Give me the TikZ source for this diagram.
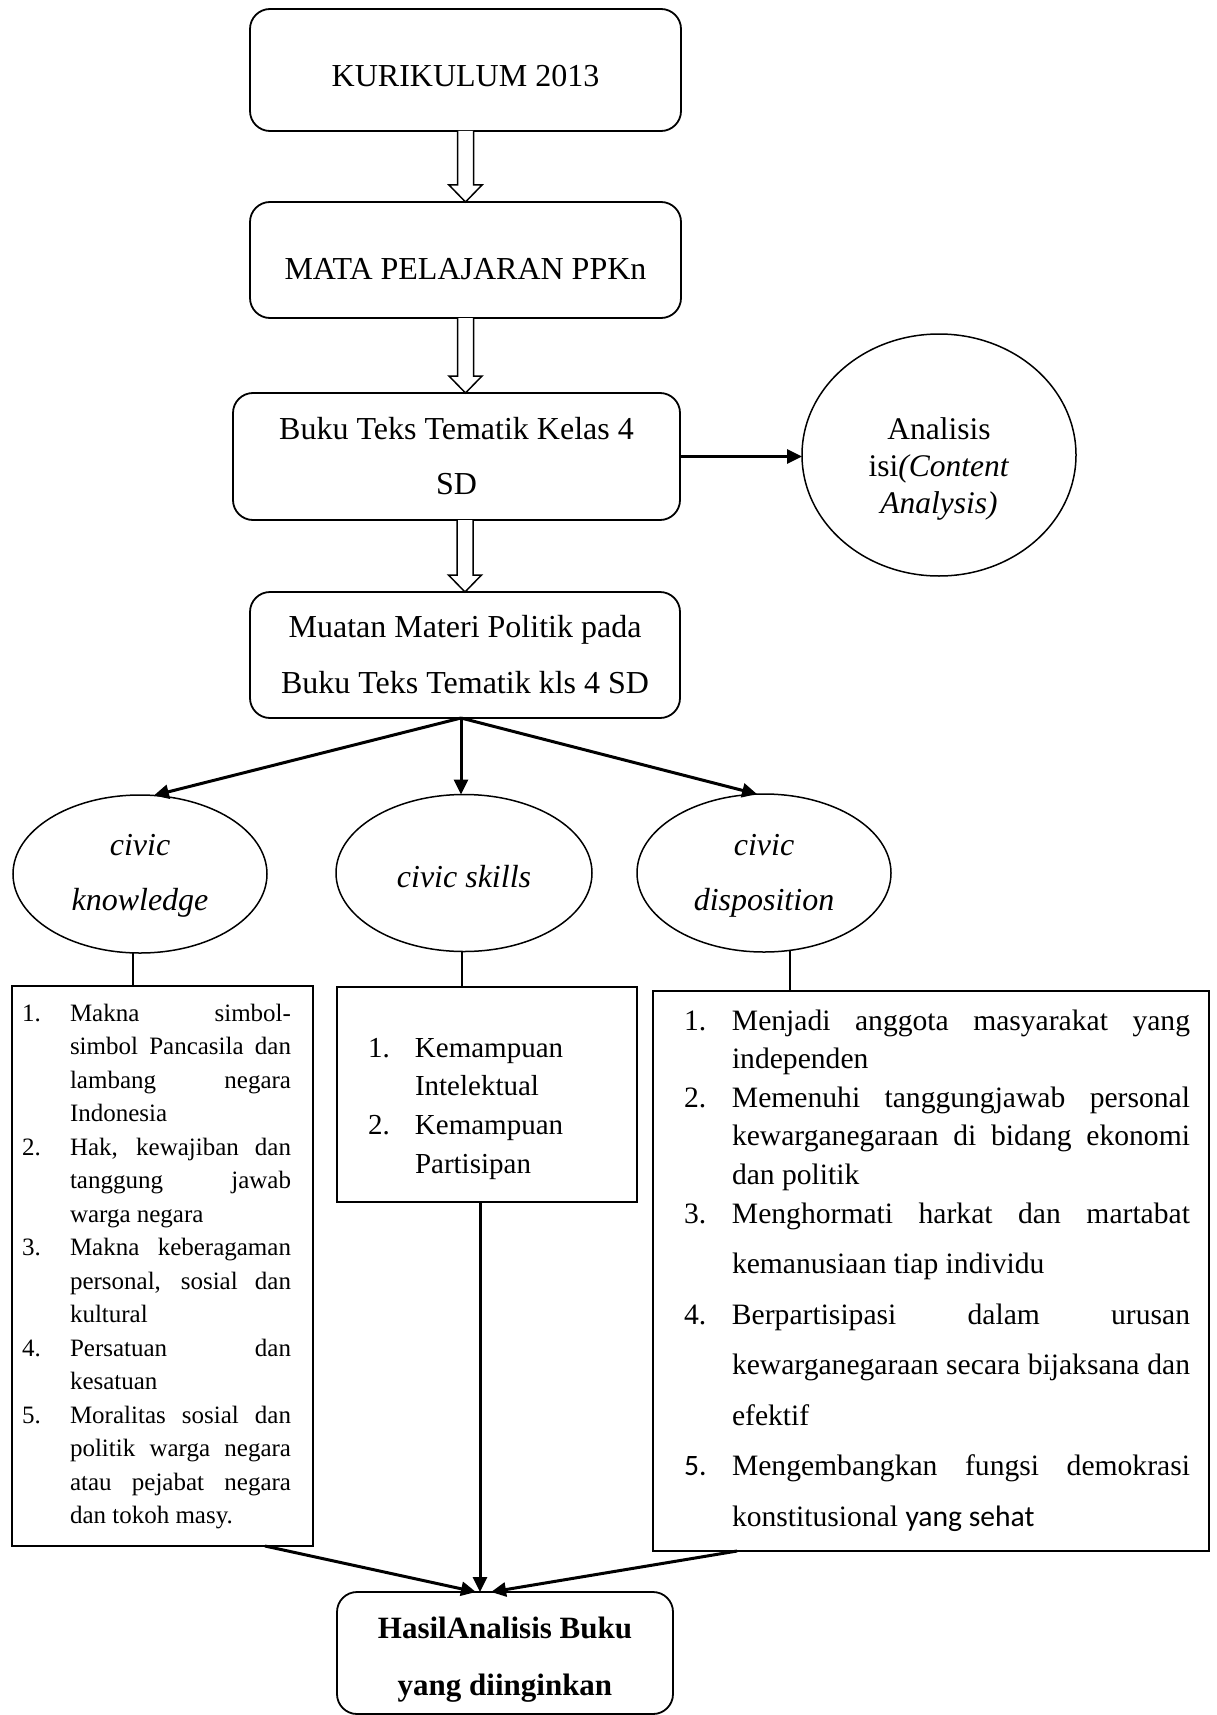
\documentclass[tikz,border=0pt]{standalone}
\usepackage{fontspec}
\setmainfont{Liberation Serif}
\newfontfamily\carlito{Carlito}
\usetikzlibrary{arrows.meta,calc,shapes.geometric}

\newlength\numw
\newlength\txtw
\newcommand\jitem[2]{\noindent\makebox[\numw][l]{#1}\makebox[\txtw][s]{#2}\par}
\newcommand\litem[2]{\noindent\makebox[\numw][l]{#1}#2\par}

\tikzset{
  rbox/.style={draw, line width=1.8pt, rounded corners=20pt, inner sep=0pt, outer sep=0pt, anchor=north west},
  sbox/.style={draw, line width=1.8pt, inner sep=0pt, outer sep=0pt, anchor=north west},
  ell/.style={draw, ellipse, line width=1.5pt, inner sep=0pt, outer sep=0pt},
  txt/.style={inner sep=0pt, outer sep=0pt, anchor=base},
  conn/.style={line width=3pt, -{Triangle[length=15pt,width=14pt]}},
  link/.style={line width=1.4pt},
  harrow/.style={draw, fill=white, line width=1.5pt, line join=miter}
}

% hollow block arrow: #1 source node, #2 target node, #3 node giving x
\newcommand\hollowarrow[3]{%
  \draw[harrow] let \p1=(#1.south), \p2=(#2.north), \p3=(#3.center) in
  (\x3-8pt,\y1) -- (\x3-8pt,\y2+17pt) -- (\x3-16.5pt,\y2+17pt) -- (\x3,\y2)
  -- (\x3+16.5pt,\y2+17pt) -- (\x3+8pt,\y2+17pt) -- (\x3+8pt,\y1);}

\begin{document}
\begin{tikzpicture}[x=1pt,y=-1pt]
\useasboundingbox (0,0) rectangle (1217,1715);

% ---- top boxes ----
\node[rbox, minimum width=431pt, minimum height=122pt] (k) at (250,9) {};
\node[txt] (kt) at (465.5,87) {\fontsize{32}{55}\selectfont KURIKULUM 2013};

\node[rbox, minimum width=431pt, minimum height=116pt] (m) at (250,202) {};
\node[txt] (mt) at (465.5,279) {\fontsize{32}{55}\selectfont MATA PELAJARAN PPKn};

\node[rbox, minimum width=447pt, minimum height=127pt] (b) at (233,393) {};
\node[txt] (bt) at (456.5,439) {\parbox[t]{440pt}{\centering\fontsize{32}{55}\selectfont Buku Teks Tematik Kelas 4\\SD}};

\node[rbox, minimum width=430pt, minimum height=126pt] (mu) at (250,592) {};
\node[txt] (mut) at (465,637) {\parbox[t]{420pt}{\centering\fontsize{32}{56}\selectfont Muatan Materi Politik pada\\Buku Teks Tematik kls 4 SD}};

% ---- analysis circle ----
\node[ell, minimum width=274pt, minimum height=242pt] (ana) at (939,455) {};
\node[txt] (anat) at (939,439) {\parbox[t]{260pt}{\centering\fontsize{31.5}{37}\selectfont Analisis\\isi\textit{(Content}\\\textit{Analysis)}}};

% ---- civic ellipses ----
\node[ell, minimum width=254pt, minimum height=158pt] (ck) at (140,874) {};
\node[txt] (ckt) at (140,855) {\parbox[t]{240pt}{\centering\fontsize{32}{55}\selectfont\itshape civic\\knowledge}};

\node[ell, minimum width=256pt, minimum height=157pt] (cs) at (464,873) {};
\node[txt] (cst) at (464,887) {\fontsize{32}{55}\selectfont\itshape civic skills};

\node[ell, minimum width=254pt, minimum height=158pt] (cd) at (764,873) {};
\node[txt] (cdt) at (764,855) {\parbox[t]{240pt}{\centering\fontsize{32}{55}\selectfont\itshape civic\\disposition}};

% ---- list boxes ----
\node[sbox, minimum width=301pt, minimum height=560pt] (lb) at (12,986) {};
\node[inner sep=0pt, outer sep=0pt, anchor=base west] (lbt) at (22,1021) {\parbox[t]{275pt}{%
\fontsize{25}{33.5}\selectfont\setlength\numw{48pt}\setlength\txtw{221pt}%
\jitem{1.}{Makna simbol-}
\jitem{}{simbol Pancasila dan}
\jitem{}{lambang negara}
\litem{}{Indonesia}
\jitem{2.}{Hak, kewajiban dan}
\jitem{}{tanggung jawab}
\litem{}{warga negara}
\jitem{3.}{Makna keberagaman}
\jitem{}{personal, sosial dan}
\litem{}{kultural}
\jitem{4.}{Persatuan dan}
\litem{}{kesatuan}
\jitem{5.}{Moralitas sosial dan}
\jitem{}{politik warga negara}
\jitem{}{atau pejabat negara}
\litem{}{dan tokoh masy.}}};

\node[sbox, minimum width=300pt, minimum height=215pt] (mb) at (337,987) {};
\node[inner sep=0pt, outer sep=0pt, anchor=base west] (mbt) at (368,1057) {\parbox[t]{260pt}{%
\fontsize{29}{38.7}\selectfont\setlength\numw{47pt}%
\litem{1.}{Kemampuan}
\litem{}{Intelektual}
\litem{2.}{Kemampuan}
\litem{}{Partisipan}}};

\node[sbox, minimum width=556pt, minimum height=560pt] (rb) at (653,991) {};
\node[inner sep=0pt, outer sep=0pt, anchor=base west] (rbt) at (684,1030) {\parbox[t]{510pt}{%
\fontsize{29.6}{38.6}\selectfont\setlength\numw{48pt}\setlength\txtw{458pt}%
\jitem{1.}{Menjadi anggota masyarakat yang}
\litem{}{independen}
\jitem{2.}{Memenuhi tanggungjawab personal}
\jitem{}{kewarganegaraan di bidang ekonomi}
\litem{}{dan politik}
\jitem{3.}{Menghormati harkat dan martabat}
\fontsize{29.6}{50.5}\selectfont
\litem{}{kemanusiaan tiap individu}
\jitem{4.}{Berpartisipasi dalam urusan}
\jitem{}{kewarganegaraan secara bijaksana dan}
\litem{}{efektif}
\jitem{\carlito 5.}{Mengembangkan fungsi demokrasi}
\litem{}{konstitusional {\carlito yang sehat}}}};

% ---- result box ----
\node[rbox, minimum width=336pt, minimum height=122pt] (hb) at (337,1592) {};
\node[txt] (hbt) at (505,1638) {\parbox[t]{330pt}{\centering\fontsize{31}{57}\selectfont\bfseries HasilAnalisis Buku\\yang diinginkan}};

% ---- hollow arrows ----
\hollowarrow{k}{m}{k}
\hollowarrow{m}{b}{m}
\hollowarrow{b}{mu}{mu}

% ---- helper coordinates ----
\coordinate (muo) at ($(mu.south)+(-4,0)$);
\coordinate (ckb) at ($(ck.south)+(-7,0)$);
\coordinate (csb) at ($(cs.south)+(-2,0)$);
\coordinate (cdb) at ($(cd.center)+(26,77.3)$);
\coordinate (lbo) at ($(lb.south east)+(-48,0)$);
\coordinate (mbo) at ($(mb.south)+(-7,0)$);
\coordinate (rbo) at ($(rb.south west)+(84,0)$);
\coordinate (hl) at ($(hb.north)+(-29,0)$);
\coordinate (hm) at ($(hb.north)+(-25,0)$);
\coordinate (hr) at ($(hb.north)+(-14,0)$);

% ---- connectors ----
\draw[conn] (b.east) -- (b.east -| ana.west);
\draw[conn] (muo) -- (ck.80);
\draw[conn] (muo) -- (muo |- cs.north);
\draw[conn] (muo) -- (cd.95);

\draw[link] (ckb) -- (ckb |- lb.north);
\draw[link] (csb) -- (csb |- mb.north);
\draw[link] (cdb) -- (cdb |- rb.north);

\draw[conn] (lbo) -- (hl);
\draw[conn] (mbo) -- (mbo |- hm);
\draw[conn] (rbo) -- (hr);
\end{tikzpicture}
\end{document}
